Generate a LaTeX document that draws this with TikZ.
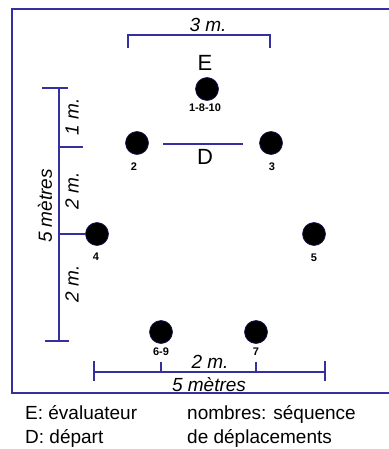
\documentclass[tikz,border=0pt]{standalone}
\usepackage{fontspec}
\setmainfont{Liberation Sans}
\begin{document}
\begin{tikzpicture}[x=1pt,y=-1pt,
  frameline/.style={draw=linecol,line width=1.8pt},
  dimline/.style={draw=linecol,line width=1.4pt},
  spot/.style={circle,fill=black,draw=dotedge,line width=0.6pt,minimum size=23pt,inner sep=0pt},
  seqlabel/.style={font=\fontsize{11}{12}\selectfont\bfseries,inner sep=0pt},
  dimlabel/.style={font=\fontsize{19}{21}\selectfont\itshape,inner sep=0pt},
  biglabel/.style={font=\fontsize{22}{24}\selectfont,inner sep=0pt},
  legend/.style={font=\fontsize{19}{21}\selectfont,inner sep=0pt,anchor=base west}]
\definecolor{linecol}{RGB}{52,48,160}
\definecolor{dotedge}{RGB}{20,20,90}
\useasboundingbox[fill=white] (0,0) rectangle (388,449);

% enclosing room (right side runs past the edge)
\coordinate (fTR) at (392,9);
\coordinate (fTL) at (12,9);
\coordinate (fBL) at (12,393);
\coordinate (fBR) at (392,393);
\draw[frameline] (fTR) -- (fTL) -- (fBL) -- (fBR);

% positions of the sequence
\node[spot] (p1) at (207,89) {};
\node[spot] (p2) at (137,143) {};
\node[spot] (p3) at (271,143) {};
\node[spot] (p4) at (97,234) {};
\node[spot] (p5) at (314,234) {};
\node[spot] (p6) at (161,332) {};
\node[spot] (p7) at (256,332) {};

\node[seqlabel] at (205,108) {1-8-10};
\node[seqlabel] at (134,167) {2};
\node[seqlabel] at (272,167) {3};
\node[seqlabel] at (96,257) {4};
\node[seqlabel] at (314,258) {5};
\node[seqlabel] at (161,352) {6-9};
\node[seqlabel] at (256,352) {7};

% evaluator and start line
\node[biglabel] (E) at (205,63) {E};
\coordinate (dA) at (163,144);
\coordinate (dB) at (243,144);
\draw[dimline] (dA) -- (dB);
\node[biglabel] (D) at (205,157) {D};

% 3 m. dimension at the top
\coordinate (tA) at (128,48);
\coordinate (tB) at (128,35);
\coordinate (tC) at (270,35);
\coordinate (tD) at (270,48);
\draw[dimline] (tA) -- (tB) -- (tC) -- (tD);
\node[dimlabel] at (208,25) {3 m.};

% vertical 5 metre dimension on the left
\coordinate (vTop) at (59,88);
\coordinate (vBot) at (59,341);
\draw[dimline] (vTop) -- (vBot);
\coordinate (k1a) at (42,88);  \coordinate (k1b) at (68,88);
\coordinate (k2a) at (59,147); \coordinate (k2b) at (83,147);
\coordinate (k3a) at (59,234); \coordinate (k3b) at (p4.west);
\coordinate (k4a) at (45,341); \coordinate (k4b) at (69,341);
\draw[dimline] (k1a) -- (k1b);
\draw[dimline] (k2a) -- (k2b);
\draw[dimline] (k3a) -- (k3b);
\draw[dimline] (k4a) -- (k4b);
\node[dimlabel,rotate=90] at (72,117) {1 m.};
\node[dimlabel,rotate=90] at (72,191) {2 m.};
\node[dimlabel,rotate=90] at (72,284) {2 m.};
\node[dimlabel,rotate=90] at (45,206) {5 mètres};

% horizontal 5 metre dimension at the bottom
\coordinate (hL) at (94,372);
\coordinate (hR) at (325,372);
\draw[dimline] (hL) -- (hR);
\draw[dimline] (94,361) -- (94,381);
\draw[dimline] (325,361) -- (325,381);
\draw[dimline] (161,362) -- (161,372);
\draw[dimline] (256,362) -- (256,372);
\node[dimlabel] at (210,362) {2 m.};
\node[dimlabel] at (209,385) {5 mètres};

% key
\node[legend] at (25,419) {E: évaluateur};
\node[legend] at (25,443) {D: départ};
\node[legend] at (187,419) {nombres: séquence};
\node[legend] at (187,443) {de déplacements};
\end{tikzpicture}
\end{document}
